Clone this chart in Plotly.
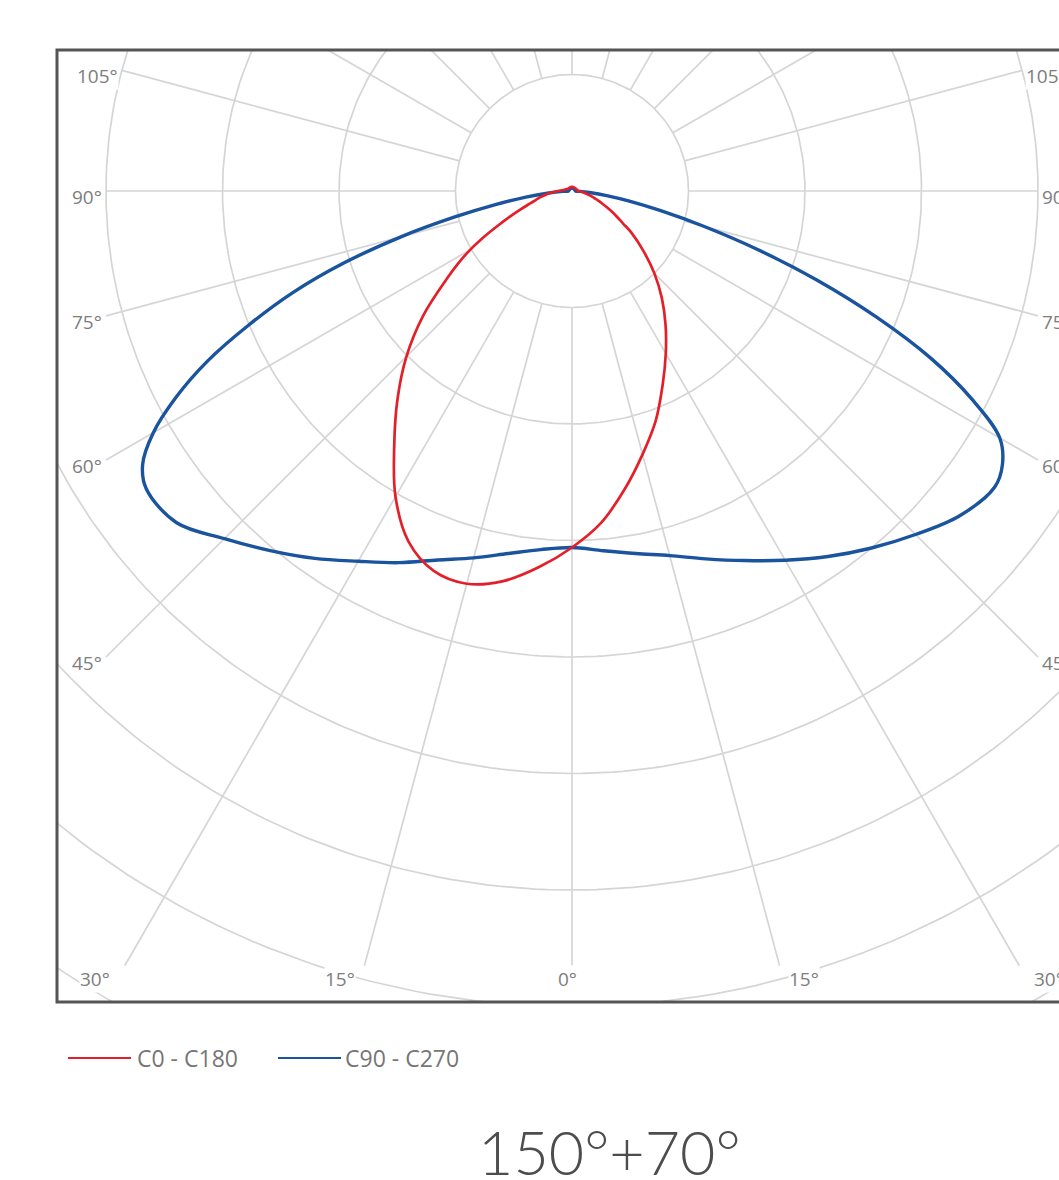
import numpy as np
import plotly.graph_objects as go

# gamma angle from nadir (deg) and luminous intensity (cd/klm) for each half plane
gamma = [0, 5, 10, 15, 20, 25, 30, 35, 40, 45, 50, 55, 57.5, 60, 62.5, 65, 67.5,
         70, 72.5, 75, 77.5, 80, 82.5, 85, 87.5, 90, 120, 150, 180]

c0 = [306, 286, 260, 234, 210, 184, 161, 140, 120, 100, 80, 62, 52, 45, 39, 33, 28,
      24, 20, 17, 14, 12, 10, 8, 6, 5, 4, 3.5, 3.5]
c180 = [306, 324, 340, 349, 347, 332, 303, 266, 233, 201, 167, 131, 116, 101, 85, 70, 58,
        48, 40, 34, 30, 26, 22, 19, 15, 12, 4, 3.5, 3.5]
c90 = [306, 310, 316, 324, 336, 350, 366, 383, 400, 417, 434, 443, 438, 424, 387, 340, 283,
       224, 167, 117, 78, 50, 30, 15, 7, 3, 2.5, 2.5, 2.5]
c270 = [306, 309, 316, 326, 337, 352, 367, 385, 403, 422, 443, 446, 437, 415, 383, 345, 300,
        255, 205, 152, 103, 66, 40, 20, 8, 3, 2.5, 2.5, 2.5]

rings = [100, 200, 300, 400, 500, 600, 700, 800]
spoke_angles = list(range(-165, 181, 15))
labelled = [-105, -90, -75, -60, -45, -30, -15, 0, 15, 30, 45, 60, 75, 90, 105]
legend_names = ["C0 - C180", "C90 - C270"]
title_text = "150°+70°"

RED = "#e3202a"
BLUE = "#1a539e"
GRID = "#d5d5d5"

# page geometry (pixels)
W, H = 1059, 1180
L, T, B = 57, 50, 1002
CX, CY = 572, 191
PX = 1.165  # pixels per cd/klm

xr = [(L - CX) / PX, (W - CX) / PX]
yr = [(CY - B) / PX, (CY - T) / PX]
XLIM = 400
YLIM = 665


def paper_x(px):
    return (px - L) / (W - L)


def paper_y(py):
    return (B - py) / (B - T)


def closed_curve(right, left):
    g = np.radians(gamma)
    r1 = np.array(right, dtype=float)
    r2 = np.array(left, dtype=float)
    x = np.concatenate([r1 * np.sin(g), (-r2 * np.sin(g))[::-1]])
    y = np.concatenate([-r1 * np.cos(g), (-r2 * np.cos(g))[::-1]])
    return x, y


fig = go.Figure()

# rings
t = np.linspace(0, 2 * np.pi, 361)
rx, ry = [], []
for r in rings:
    rx += list(r * np.sin(t)) + [None]
    ry += list(r * np.cos(t)) + [None]
fig.add_trace(go.Scatter(x=rx, y=ry, mode="lines", line=dict(color=GRID, width=1.7),
                         hoverinfo="skip", showlegend=False))


# spokes
def spoke_end(a):
    th = np.radians(a)
    if a not in labelled:
        return 1200.0
    ends = []
    if abs(np.sin(th)) > 1e-9:
        ends.append(XLIM / abs(np.sin(th)))
    if np.cos(th) > 1e-9:
        ends.append(YLIM / np.cos(th))
    if abs(a) >= 90:
        ends.append(rings[3])
    return min(ends)


sx, sy = [], []
ends = {}
for a in spoke_angles:
    th = np.radians(a)
    re_ = spoke_end(a)
    ends[a] = (re_ * np.sin(th), -re_ * np.cos(th))
    sx += [rings[0] * np.sin(th), re_ * np.sin(th), None]
    sy += [-rings[0] * np.cos(th), -re_ * np.cos(th), None]
fig.add_trace(go.Scatter(x=sx, y=sy, mode="lines", line=dict(color=GRID, width=1.7),
                         hoverinfo="skip", showlegend=False))

# photometric curves
bx, by = closed_curve(c90, c270)
fig.add_trace(go.Scatter(x=bx, y=by, mode="lines", name=legend_names[1],
                         line=dict(color=BLUE, width=3.4, shape="spline", smoothing=1.0)))
rx_, ry_ = closed_curve(c0, c180)
fig.add_trace(go.Scatter(x=rx_, y=ry_, mode="lines", name=legend_names[0],
                         line=dict(color=RED, width=2.7, shape="spline", smoothing=1.0)))

lab_font = dict(family="Open Sans, Lato, sans-serif", size=19, color="#7d7d7d")
annotations = []
bottom_shift = {0: -5, 15: 24, 30: 30}
for a in labelled:
    ex, ey = ends[a]
    txt = f"{abs(a)}°"
    if abs(a) >= 45:
        annotations.append(dict(x=ex, y=ey, xref="x", yref="y", text=txt, showarrow=False,
                                xanchor="right" if a < 0 else "left",
                                xshift=-3 if a < 0 else 3, yshift=-6,
                                bgcolor="white", borderpad=0, font=lab_font))
    else:
        shift = bottom_shift[abs(a)] * (1 if a >= 0 else -1)
        if a == 0:
            shift = bottom_shift[0]
        annotations.append(dict(x=ex, y=ey, xref="x", yref="y", text=txt, showarrow=False,
                                xanchor="center", yanchor="top", xshift=shift, yshift=1,
                                bgcolor="white", borderpad=0, font=lab_font))

# legend (drawn by hand to match the long line samples)
leg_font = dict(family="Open Sans, Lato, sans-serif", size=23, color="#767676")
shapes = [dict(type="rect", xref="paper", yref="paper", x0=0, x1=1.1, y0=0, y1=1,
               line=dict(color="#555555", width=3), layer="above")]
for (x0, x1, tx), col, name in zip([(68, 131, 135), (278, 341, 343)], [RED, BLUE], legend_names):
    shapes.append(dict(type="line", xref="paper", yref="paper",
                       x0=paper_x(x0), x1=paper_x(x1), y0=paper_y(1058), y1=paper_y(1058),
                       line=dict(color=col, width=2.2)))
    annotations.append(dict(x=paper_x(tx), y=paper_y(1058), xref="paper", yref="paper",
                            text=name, showarrow=False, xanchor="left", yanchor="middle",
                            font=leg_font))

annotations.append(dict(x=paper_x(609), y=paper_y(1151), xref="paper", yref="paper",
                        text=title_text, showarrow=False, xanchor="center", yanchor="middle",
                        font=dict(family="Lato, Open Sans, sans-serif", size=61, weight=300,
                                  color="#4d4d4d")))

fig.update_layout(
    width=W, height=H,
    margin=dict(l=L, r=0, t=T, b=H - B, autoexpand=False),
    paper_bgcolor="white", plot_bgcolor="white",
    showlegend=False,
    xaxis=dict(range=xr, visible=False, fixedrange=True),
    yaxis=dict(range=yr, visible=False, fixedrange=True),
    shapes=shapes, annotations=annotations,
)

fig.write_html("out.html", config={"displayModeBar": False},
               post_script="document.body.style.margin='0';")
